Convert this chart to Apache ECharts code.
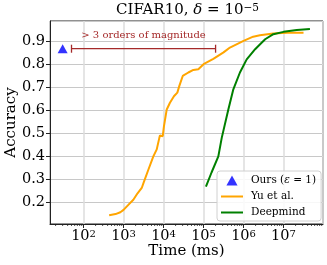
<!DOCTYPE html>
<html><head><meta charset="utf-8">
<script src="https://cdn.jsdelivr.net/npm/echarts@6/dist/echarts.min.js"></script>
<style>html,body{margin:0;padding:0;background:#fff}#c{width:327px;height:265px}</style>
</head><body><div id="c"></div>
<script>
// ---- data ----
const yuTime = [437, 631, 832, 1000, 1318, 1758, 2239, 2851, 3162, 4169, 5559, 6761, 7852, 8128, 9550, 10233, 12023, 14454, 15849, 18197, 22131, 24831, 30200, 41687, 55590, 74131, 100000, 175800, 316000, 457000, 1000000, 1740000, 2570000, 5500000, 12300000, 31600000];
const yuAcc  = [0.145, 0.150, 0.158, 0.168, 0.190, 0.212, 0.240, 0.263, 0.285, 0.342, 0.400, 0.430, 0.480, 0.490, 0.487, 0.530, 0.603, 0.632, 0.632, 0.660, 0.676, 0.705, 0.748, 0.763, 0.774, 0.777, 0.799, 0.822, 0.850, 0.871, 0.900, 0.918, 0.924, 0.932, 0.935, 0.935];
const dmTime = [114800, 158500, 234400, 285100, 416900, 555900, 812800, 1200000, 1950000, 3470000, 5560000, 10000000, 21400000, 45700000];
const dmAcc  = [0.269, 0.330, 0.400, 0.480, 0.603, 0.690, 0.763, 0.820, 0.864, 0.907, 0.929, 0.939, 0.947, 0.951];
const oursTime = [30];
const oursAcc = [0.866];
const gapRange = [50, 200000];   // annotated span (ms)
const gapAcc = 0.866;
const gapText = '> 3 orders of magnitude';
const gapTextPos = [3162, 0.925];
const seriesNames = ['Ours', 'Yu et al.', 'Deepmind'];
const minorMantissas = [2, 3, 4, 5, 6, 7, 8, 9];
const minorDecades = [1, 2, 3, 4, 5, 6, 7];
const xMin = 14.5, xMax = 9.7e7, yMin = 0.107, yMax = 0.986;

const minorTicks = [];
minorDecades.forEach(d => minorMantissas.forEach(m => {
  const v = m * Math.pow(10, d);
  if (v > xMin && v < xMax) minorTicks.push([v]);
}));

const SERIF = "'DejaVu Serif', serif";
const LINE_ICON = 'path://M0,0 L22,0 L22,2 L0,2 Z';
const TRI_ICON = 'path://M5,0 L10,9 L0,9 Z';
const chart = echarts.init(document.getElementById('c'), null, {renderer: 'canvas'});
chart.setOption({
  animation: false,
  backgroundColor: '#fff',
  title: {
    text: 'CIFAR10, {i|δ} = 10{s|−5}',
    left: 111, top: -2,
    textStyle: {
      fontFamily: SERIF, fontSize: 15, fontWeight: 'normal', color: '#000',
      rich: {
        i: {fontFamily: SERIF, fontSize: 15, fontStyle: 'italic', color: '#000'},
        s: {fontFamily: SERIF, fontSize: 10.5, color: '#000', verticalAlign: 'top', lineHeight: 10}
      }
    }
  },
  grid: {left: 50, top: 21, right: 4, bottom: 41, show: true, borderColor: '#222', borderWidth: 1,
         backgroundColor: 'transparent', containLabel: false, outerBoundsMode: 'none'},
  legend: {
    orient: 'vertical', left: 217, top: 171,
    data: [
      {name: seriesNames[0], icon: TRI_ICON},
      {name: seriesNames[1], icon: LINE_ICON},
      {name: seriesNames[2], icon: LINE_ICON}
    ],
    itemWidth: 22, itemHeight: 10, itemGap: 5,
    padding: [4, 5, 3, 4],
    backgroundColor: 'rgba(255,255,255,0.85)',
    borderColor: '#d0d0d0', borderWidth: 1, borderRadius: 3,
    formatter: n => n === 'Ours' ? 'Ours ({i|ε} = 1)' : n,
    textStyle: {
      fontFamily: SERIF, fontSize: 10.5, color: '#000', padding: [0, 0, 0, 3],
      rich: {i: {fontFamily: SERIF, fontSize: 10.5, fontStyle: 'italic', color: '#000'}}
    }
  },
  xAxis: {
    type: 'log', logBase: 10, min: xMin, max: xMax,
    name: 'Time (ms)', nameLocation: 'middle', nameGap: 20, nameMoveOverlap: false,
    nameTextStyle: {fontFamily: SERIF, fontSize: 15, color: '#000'},
    axisLine: {show: true, lineStyle: {color: '#222', width: 1}},
    axisTick: {show: true, inside: false, length: 4, lineStyle: {color: '#222'}},
    axisLabel: {
      margin: 5, showMinLabel: false, showMaxLabel: false,
      formatter: v => {
        const e = Math.log10(v);
        if (Math.abs(e - Math.round(e)) > 1e-6) return '';
        return '{b|10}{s|' + Math.round(e) + '}';
      },
      rich: {
        b: {fontFamily: SERIF, fontSize: 14.5, color: '#000'},
        s: {fontFamily: SERIF, fontSize: 10, color: '#000', verticalAlign: 'top', lineHeight: 10}
      }
    },
    splitLine: {show: true, lineStyle: {color: '#dcdcdc', width: 1.5}}
  },
  yAxis: {
    type: 'value', min: yMin, max: yMax, splitNumber: 8,
    name: 'Accuracy', nameLocation: 'middle', nameGap: 31, nameMoveOverlap: false,
    nameTextStyle: {fontFamily: SERIF, fontSize: 15, color: '#000'},
    axisLine: {show: true, lineStyle: {color: '#222', width: 1}},
    axisTick: {show: true, inside: false, length: 4, lineStyle: {color: '#222'}},
    axisLabel: {
      margin: 5, showMinLabel: false, showMaxLabel: false,
      fontFamily: SERIF, fontSize: 14.5, color: '#000',
      formatter: v => Math.abs(v * 10 - Math.round(v * 10)) < 1e-6 ? v.toFixed(1) : ''
    },
    splitLine: {show: true, lineStyle: {color: '#c8c8c8', width: 1}}
  },
  series: [
    {
      name: seriesNames[0], type: 'scatter', symbol: TRI_ICON, symbolSize: [10, 9],
      itemStyle: {color: '#0000ff'}, z: 5,
      data: oursTime.map((t, i) => [t, oursAcc[i]])
    },
    {
      name: seriesNames[1], type: 'line', symbol: 'none', showSymbol: false,
      lineStyle: {color: '#ffa500', width: 2}, itemStyle: {color: '#ffa500'},
      data: yuTime.map((t, i) => [t, yuAcc[i]]), z: 3
    },
    {
      name: seriesNames[2], type: 'line', symbol: 'none', showSymbol: false,
      lineStyle: {color: '#008000', width: 2}, itemStyle: {color: '#008000'},
      data: dmTime.map((t, i) => [t, dmAcc[i]]), z: 4
    },
    {
      type: 'custom', silent: true, z: 4,
      data: [[gapRange[0], gapRange[1], gapAcc]],
      encode: {x: [0, 1], y: 2},
      renderItem: (params, api) => {
        const a = api.coord([api.value(0), api.value(2)]);
        const b = api.coord([api.value(1), api.value(2)]);
        const st = {stroke: '#a52a2a', lineWidth: 1.3};
        return {type: 'group', children: [
          {type: 'line', shape: {x1: a[0], y1: a[1], x2: b[0], y2: b[1]}, style: st},
          {type: 'line', shape: {x1: a[0], y1: a[1] - 4, x2: a[0], y2: a[1] + 4}, style: st},
          {type: 'line', shape: {x1: b[0], y1: b[1] - 4, x2: b[0], y2: b[1] + 4}, style: st}
        ]};
      }
    },
    {
      type: 'custom', silent: true, z: 4,
      data: [[gapTextPos[0], gapTextPos[1]]],
      renderItem: (params, api) => {
        const p = api.coord([api.value(0), api.value(1)]);
        return {type: 'text', x: p[0], y: p[1], style: {
          text: gapText, fill: '#a52a2a', fontFamily: SERIF, fontSize: 10,
          align: 'center', verticalAlign: 'middle'
        }};
      }
    },
    {
      type: 'custom', silent: true, z: 6, clip: false,
      data: minorTicks,
      encode: {x: 0},
      renderItem: (params, api) => {
        const p = api.coord([api.value(0), yMin]);
        return {type: 'line', shape: {x1: p[0], y1: p[1], x2: p[0], y2: p[1] + 2}, style: {stroke: '#222', lineWidth: 0.8}};
      }
    }
  ]
});
</script></body></html>
